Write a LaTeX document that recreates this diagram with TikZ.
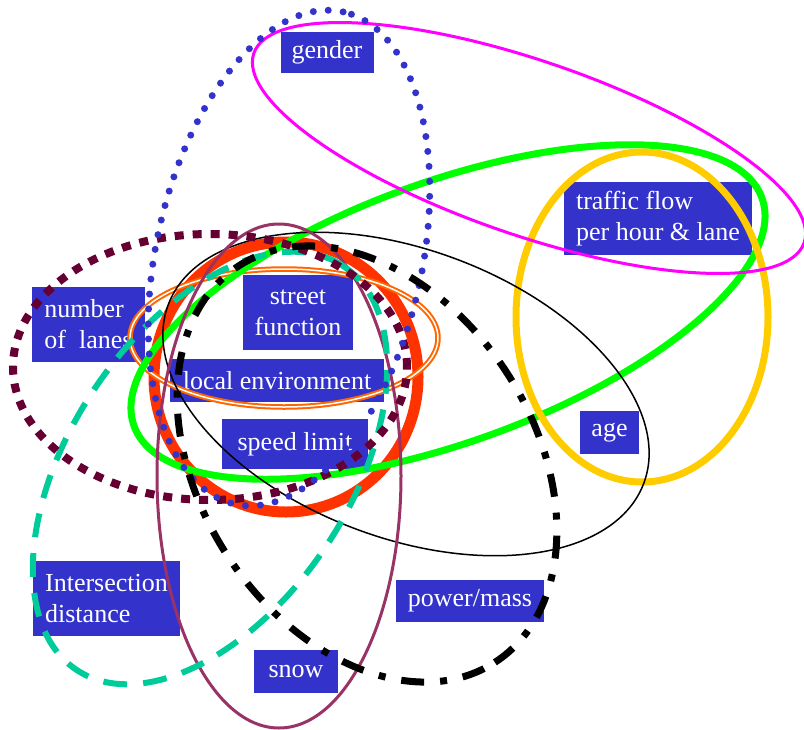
\documentclass[tikz,border=0pt]{standalone}
\usepackage{fontspec}
\setmainfont{Liberation Serif}
\definecolor{boxblue}{RGB}{51,51,204}
\definecolor{flowpink}{RGB}{255,0,255}
\definecolor{envgreen}{RGB}{0,255,0}
\definecolor{agegold}{RGB}{255,204,0}
\definecolor{speedred}{RGB}{255,51,0}
\definecolor{streetorange}{RGB}{255,102,0}
\definecolor{lanemaroon}{RGB}{102,0,51}
\definecolor{crossteal}{RGB}{0,204,153}
\definecolor{snowplum}{RGB}{153,51,102}
\begin{document}
\begin{tikzpicture}
  [x=1pt,y=1pt,
   every node/.style={fill=boxblue,text=white,inner sep=0pt,
     font=\fontsize{26}{31}\selectfont}]
\useasboundingbox (0,0) rectangle (804,-729);
% labels
\node (gender) [minimum width=93,minimum height=41] at (327,-52) {gender};
\node (flow) [align=left,minimum width=188,minimum height=73] at (658,-218.5) {traffic flow\\per hour \& lane};
\node (lanes) [align=left,minimum width=113,minimum height=75] at (88.5,-324.5) {number\\of~~lanes};
\node (street) [align=center,minimum width=110,minimum height=75] at (298,-312.5) {street\\function};
\node (environ) [minimum width=214,minimum height=43] at (277,-380.5) {local environment};
\node (speed) [minimum width=146,minimum height=50] at (295,-444) {speed limit};
\node (age) [minimum width=59,minimum height=43] at (609.5,-432.5) {age};
\node (cross) [align=left,minimum width=147,minimum height=75] at (106.5,-598.5) {Intersection\\distance};
\node (power) [minimum width=148,minimum height=42] at (470,-601) {power/mass};
\node (snow) [minimum width=84,minimum height=43] at (296,-671.5) {snow};
% sets
\draw[speedred,line width=11] (286,-377) ellipse (132 and 135);
\draw[streetorange,line width=2,double=white,double distance=1.5] (284,-338) ellipse (154 and 69);
\draw[envgreen,line width=7,rotate around={20:(448,-312)}] (448,-312) ellipse (334 and 130);
\draw[agegold,line width=7] (642,-317) ellipse (126 and 165);
\draw[flowpink,line width=3,rotate around={-19:(529,-148)}] (529,-148) ellipse (291 and 87);
\draw[line width=1.5,rotate around={-20.6:(406,-394)}] (406,-394) ellipse (254 and 144);
\draw[snowplum,line width=3] (279,-476) ellipse (122 and 252);
\draw[crossteal,line width=6,dash pattern=on 24pt off 16pt,rotate around={56.6:(210,-468)}] (210,-468) ellipse (242 and 140);
\draw[lanemaroon,line width=8,dash pattern=on 9pt off 9pt] (210,-367) ellipse (197 and 133);
\draw[boxblue,line width=7,line cap=round,dash pattern=on 0pt off 15pt,rotate around={77.6:(289,-258)}] (289,-258) ellipse (252 and 133);
\draw[line width=7,dash pattern=on 23pt off 16pt on 7pt off 16pt,rotate around={-57.2:(367,-464)}] (367,-464) ellipse (236 and 167);
\end{tikzpicture}
\end{document}
